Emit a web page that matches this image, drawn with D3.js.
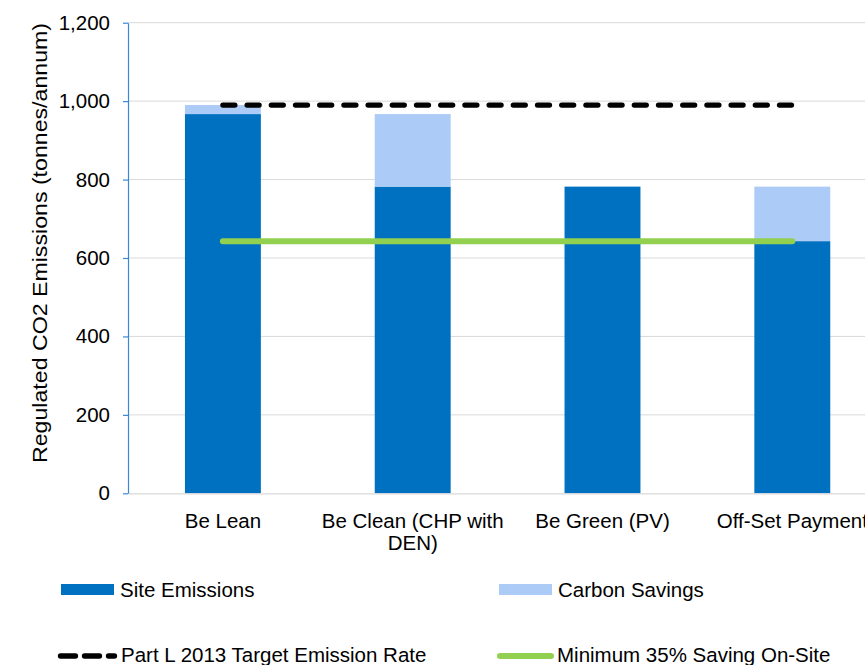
<!DOCTYPE html>
<html>
<head>
<meta charset="utf-8">
<script src="https://cdn.jsdelivr.net/npm/d3@7"></script>
<style>
  html, body { margin: 0; padding: 0; background: #fff; }
  svg { display: block; }
  text { font-family: "Liberation Sans", Arial, sans-serif; fill: #000; }
</style>
</head>
<body>
<svg id="chart" width="865" height="665"></svg>
<script>
// Regulated CO2 emissions by step of the energy hierarchy (tonnes/annum)
const categories = ["Be Lean", "Be Clean (CHP with DEN)", "Be Green (PV)", "Off-Set Payment"];
const siteEmissions = [967, 782, 782, 643];
const carbonSavings = [23, 185, 0, 139];
const targetEmissionRate = [990, 990, 990, 990];
const minimumSaving = [643, 643, 643, 643];
const yTicks = [0, 200, 400, 600, 800, 1000, 1200];

const seriesNames = {
  site: "Site Emissions",
  savings: "Carbon Savings",
  target: "Part L 2013 Target Emission Rate",
  minimum: "Minimum 35% Saving On-Site"
};

const colors = {
  site: "#0070C0",
  savings: "#ADCBF7",
  target: "#000000",
  minimum: "#92D050",
  grid: "#D9D9D9",
  yAxis: "#3B87D6"
};

const svg = d3.select("#chart");
const FONT = 20.5;

const plot = { left: 128, top: 22.7, bottom: 493.3 };
const step = 189.8;

const x = d3.scaleBand()
  .domain(categories)
  .range([plot.left, plot.left + step * categories.length])
  .paddingInner(0.6)
  .paddingOuter(0.3);

const y = d3.scaleLinear()
  .domain([0, 1200])
  .range([plot.bottom, plot.top]);

const cx = d => x(d) + x.bandwidth() / 2;

// Horizontal gridlines
svg.append("g")
  .selectAll("line")
  .data(yTicks.filter(t => t > 0))
  .join("line")
  .attr("x1", plot.left)
  .attr("x2", x.range()[1])
  .attr("y1", d => y(d))
  .attr("y2", d => y(d))
  .attr("stroke", colors.grid)
  .attr("stroke-width", 1);

// Stacked bars: site emissions at the base, carbon savings on top
const rows = categories.map((c, i) => ({
  category: c,
  site: siteEmissions[i],
  savings: carbonSavings[i]
}));
const stacked = d3.stack().keys(["site", "savings"])(rows);

svg.append("g")
  .selectAll("g")
  .data(stacked)
  .join("g")
  .attr("fill", s => colors[s.key])
  .selectAll("rect")
  .data(s => s)
  .join("rect")
  .attr("x", d => x(d.data.category))
  .attr("width", x.bandwidth())
  .attr("y", d => y(d[1]))
  .attr("height", d => y(d[0]) - y(d[1]));

// X axis baseline and wrapped category labels
const xAxis = svg.append("g")
  .attr("transform", `translate(0,${plot.bottom})`)
  .call(d3.axisBottom(x).tickSize(0).tickPadding(20.5));
xAxis.select(".domain").attr("stroke", colors.grid).attr("stroke-width", 1.2);
xAxis.selectAll("text")
  .style("font-size", FONT + "px")
  .style("font-family", "'Liberation Sans', Arial, sans-serif")
  .attr("fill", "#000")
  .call(wrap, 212);

function wrap(sel, maxWidth) {
  sel.each(function () {
    const t = d3.select(this);
    const words = t.text().split(/\s+/);
    const yAttr = t.attr("y");
    const dy = parseFloat(t.attr("dy"));
    t.text(null);
    let line = [];
    let lineNo = 0;
    let tspan = t.append("tspan").attr("x", 0).attr("y", yAttr).attr("dy", dy + "em");
    for (const w of words) {
      line.push(w);
      tspan.text(line.join(" "));
      if (tspan.node().getComputedTextLength() > maxWidth && line.length > 1) {
        line.pop();
        tspan.text(line.join(" "));
        line = [w];
        lineNo += 1;
        tspan = t.append("tspan").attr("x", 0).attr("y", yAttr)
          .attr("dy", (dy + lineNo * 1.05) + "em").text(w);
      }
    }
  });
}

// Y axis
const yAxis = svg.append("g")
  .attr("transform", `translate(${plot.left},0)`)
  .call(d3.axisLeft(y).tickValues(yTicks).tickFormat(d3.format(",")).tickSize(5).tickSizeOuter(0).tickPadding(13));
yAxis.select(".domain").attr("stroke", colors.yAxis).attr("stroke-width", 1.2);
yAxis.selectAll(".tick line").attr("stroke", colors.yAxis).attr("stroke-width", 1.2);
yAxis.selectAll("text")
  .style("font-size", FONT + "px")
  .style("font-family", "'Liberation Sans', Arial, sans-serif")
  .attr("fill", "#000");

// Y axis title
svg.append("text")
  .attr("transform", "translate(47,243) rotate(-90)")
  .attr("text-anchor", "middle")
  .attr("textLength", 440)
  .attr("lengthAdjust", "spacingAndGlyphs")
  .style("font-size", "21px")
  .text("Regulated CO2 Emissions (tonnes/annum)");

// Reference lines across the categories
const line = d3.line()
  .x((d, i) => cx(categories[i]))
  .y(d => y(d));

svg.append("path")
  .datum(minimumSaving)
  .attr("d", line)
  .attr("fill", "none")
  .attr("stroke", colors.minimum)
  .attr("stroke-width", 6)
  .attr("stroke-linecap", "round");

svg.append("path")
  .datum(targetEmissionRate)
  .attr("d", line)
  .attr("fill", "none")
  .attr("stroke", colors.target)
  .attr("stroke-width", 5.3)
  .attr("stroke-linecap", "round")
  .attr("stroke-dasharray", "12,12.2");

// Legend
const legend = svg.append("g").style("font-size", FONT + "px");

legend.append("rect")
  .attr("x", 61).attr("y", 584).attr("width", 53).attr("height", 11)
  .attr("fill", colors.site);
legend.append("text").attr("x", 120).attr("y", 597).text(seriesNames.site);

legend.append("rect")
  .attr("x", 499).attr("y", 584).attr("width", 53).attr("height", 11)
  .attr("fill", colors.savings);
legend.append("text").attr("x", 558).attr("y", 597).text(seriesNames.savings);

legend.append("line")
  .attr("x1", 60.5).attr("x2", 114.5).attr("y1", 656).attr("y2", 656)
  .attr("stroke", colors.target)
  .attr("stroke-width", 5.3)
  .attr("stroke-linecap", "round")
  .attr("stroke-dasharray", "15,9");
legend.append("text").attr("x", 121).attr("y", 662).text(seriesNames.target);

legend.append("line")
  .attr("x1", 500).attr("x2", 551).attr("y1", 656).attr("y2", 656)
  .attr("stroke", colors.minimum)
  .attr("stroke-width", 6)
  .attr("stroke-linecap", "round");
legend.append("text").attr("x", 557).attr("y", 662).text(seriesNames.minimum);
</script>
</body>
</html>
